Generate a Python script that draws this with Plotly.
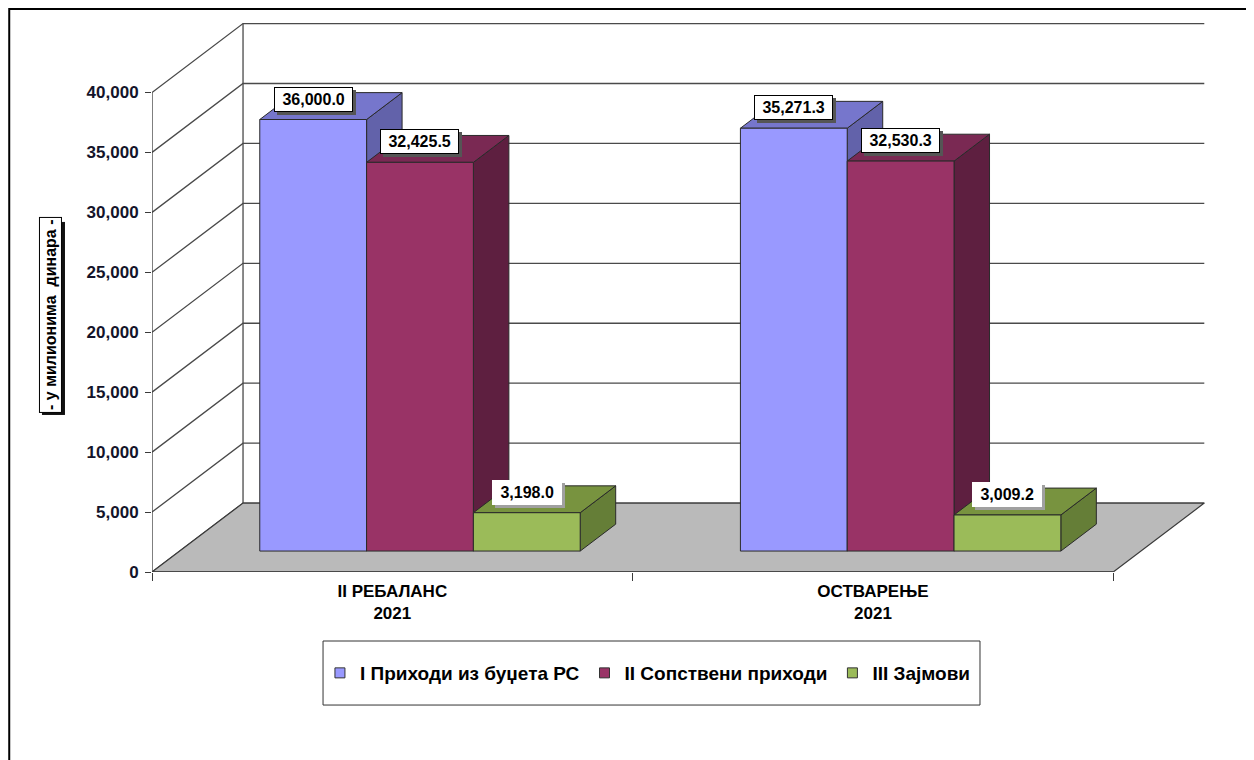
import plotly.graph_objects as go

# ---------------- data ----------------
categories = ["II РЕБАЛАНС<br>2021", "ОСТВАРЕЊЕ<br>2021"]
series_names = ["I Приходи из буџета РС", "II Сопствени приходи", "III Зајмови"]
budget_rs = [36000.0, 35271.3]
own_income = [32425.5, 32530.3]
loans = [3198.0, 3009.2]
y_ticks = [0, 5000, 10000, 15000, 20000, 25000, 30000, 35000, 40000]
y_title = "- у милионима  динара -"

series_values = [budget_rs, own_income, loans]
front_colors = ["#9999FF", "#993366", "#9BBB59"]
top_colors = ["#7676CC", "#7A2953", "#78933F"]
side_colors = ["#6262AA", "#5E1F40", "#657E37"]

# ---------------- 3D projection parameters ----------------
DX = 0.1894      # wall depth in x (category) units
DY = 5750.0      # wall depth in value units
D0 = 0.304       # depth of bar front plane (fraction of wall depth)
DB = 0.39        # bar depth (fraction of wall depth)
BAR_W = 1.0 / 4.5
N = len(categories)
Y_MAX = y_ticks[-1]

FONT = "Liberation Sans, Arial, sans-serif"
EDGE = "#2a2a2a"
GRID = "#4a4a4a"
FIG_SPACE = "\u2007"   # digit-width space
PUNCT_SPACE = "\u2008"  # period-width space

fig = go.Figure()


def poly(xs, ys, fill, line_color=EDGE, width=1.0):
    fig.add_trace(go.Scatter(
        x=xs + [xs[0]], y=ys + [ys[0]], mode="lines", fill="toself",
        fillcolor=fill, line=dict(color=line_color, width=width),
        hoverinfo="skip", showlegend=False, cliponaxis=False))


def line(xs, ys, color=GRID, width=1.3):
    fig.add_trace(go.Scatter(
        x=xs, y=ys, mode="lines", line=dict(color=color, width=width),
        hoverinfo="skip", showlegend=False, cliponaxis=False))


def blank_like(s):
    out = ""
    for ch in s:
        if ch.isdigit():
            out += FIG_SPACE
        elif ch in ",.":
            out += PUNCT_SPACE
        else:
            out += ch
    return out


# back wall + left wall grid lines
for v in y_ticks:
    line([0, DX, N + DX], [v, v + DY, v + DY])
line([DX, DX], [DY, Y_MAX + DY])

# floor
poly([0, N, N + DX, DX], [0, 0, DY, DY], "#BABABA", line_color="#3a3a3a", width=1.2)

# front axes lines
line([0, 0], [0, Y_MAX], color="#3a3a3a", width=1.3)
line([0, N], [0, 0], color="#3a3a3a", width=1.3)

# bars
base = D0 * DY
ddx = DB * DX
ddy = DB * DY
label_pos = []
for c in range(N):
    for s, vals in enumerate(series_values):
        v = vals[c]
        xl = c + 0.75 * BAR_W + s * BAR_W + D0 * DX
        xr = xl + BAR_W
        top = base + v
        poly([xr, xr + ddx, xr + ddx, xr], [base, base + ddy, top + ddy, top], side_colors[s])
        poly([xl, xr, xr + ddx, xl + ddx], [top, top, top + ddy, top + ddy], top_colors[s])
        poly([xl, xr, xr, xl], [base, base, top, top], front_colors[s])
        label_pos.append(((xl + xr) / 2, top + ddy / 2, v, s))

# legend entries
for s, name in enumerate(series_names):
    fig.add_trace(go.Scatter(
        x=[None], y=[None], mode="markers", name=name,
        marker=dict(symbol="square", size=10, color=front_colors[s],
                    line=dict(color="#333333", width=1))))

annotations = []
for (lx, ly, v, s) in label_pos:
    label = " " + f"{v:,.1f}" + " "
    shadow = "#555555" if s < 2 else "#a0a0a0"
    annotations.append(dict(x=lx, y=ly, xref="x", yref="y", text="<b>" + blank_like(label) + "</b>",
                            showarrow=False,
                            font=dict(family=FONT, size=16, color=shadow),
                            bgcolor=shadow, bordercolor=shadow, borderwidth=1, borderpad=3,
                            xshift=3, yshift=4))
    annotations.append(dict(x=lx, y=ly, xref="x", yref="y", text="<b>" + label + "</b>",
                            showarrow=False,
                            font=dict(family=FONT, size=16, color="#000000"),
                            bgcolor="#FFFFFF",
                            bordercolor="#000000" if s < 2 else "#FFFFFF",
                            borderwidth=1, borderpad=3, yshift=7))

# y-axis title box with shadow
annotations.append(dict(x=-0.0947, y=0.4656, xref="paper", yref="paper",
                        xanchor="center", yanchor="middle",
                        text="<b>" + FIG_SPACE * 21 + "</b>",
                        textangle=-90, showarrow=False,
                        font=dict(family=FONT, size=16, color="#111111"),
                        bgcolor="#111111", bordercolor="#111111", borderwidth=1, borderpad=2,
                        xshift=3, yshift=-3))
annotations.append(dict(x=-0.0947, y=0.4656, xref="paper", yref="paper",
                        xanchor="center", yanchor="middle",
                        text="<b>" + y_title + "</b>",
                        textangle=-90, showarrow=False,
                        font=dict(family=FONT, size=16, color="#000000"),
                        bgcolor="#FFFFFF", bordercolor="#000000", borderwidth=1, borderpad=2))

shapes = [
    # legend box
    dict(type="rect", xref="paper", yref="paper", x0=0.1603, x1=0.776, y0=-0.241, y1=-0.125,
         line=dict(color="#333333", width=1), layer="below"),
    # outer chart frame
    dict(type="rect", xref="paper", yref="paper", x0=-0.1338, x1=1.0300, y0=-0.38, y1=1.0199,
         line=dict(color="#000000", width=2), layer="below"),
]

fig.update_layout(
    width=1254, height=760,
    margin=dict(l=144, r=43, t=12, b=196),
    paper_bgcolor="white", plot_bgcolor="white",
    font=dict(family=FONT, color="#000000"),
    showlegend=True,
    legend=dict(orientation="h", x=0.4648, xanchor="center", y=-0.183, yanchor="middle",
                font=dict(family=FONT, size=19, color="#000000", weight="bold"),
                bgcolor="rgba(0,0,0,0)", borderwidth=0, itemwidth=30),
    xaxis=dict(range=[0, 2.22], showgrid=False, zeroline=False, showline=False,
               tickmode="array", tickvals=[c + 0.5 for c in range(N)],
               ticktext=["<b>" + t + "</b>" for t in categories],
               ticks="", tickfont=dict(family=FONT, size=17, color="#000000"),
               ticklabelstandoff=7,
               minor=dict(tickmode="array", tickvals=list(range(N + 1)), ticks="outside",
                          ticklen=8, tickcolor="#3a3a3a", tickwidth=1.3, showgrid=False)),
    yaxis=dict(range=[0, 46048], showgrid=False, zeroline=False, showline=False,
               tickmode="array", tickvals=y_ticks, tickformat=",d",
               ticks="outside", ticklen=6, tickcolor="#3a3a3a", tickwidth=1.3,
               ticklabelstandoff=3,
               tickfont=dict(family=FONT, size=17, color="#14142a", weight="bold")),
    annotations=annotations,
    shapes=shapes,
)

fig.write_html("out.html")
